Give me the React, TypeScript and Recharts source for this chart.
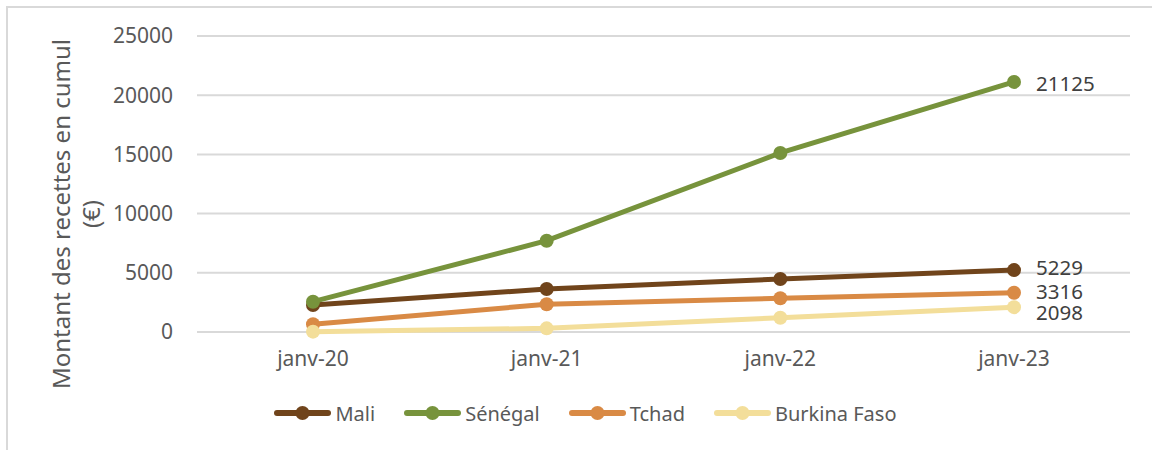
import React from "react";
import { LineChart, Line, XAxis, YAxis, CartesianGrid, LabelList } from "recharts";

const categories = ["janv-20", "janv-21", "janv-22", "janv-23"];
const mali = [2280, 3630, 4480, 5229];
const senegal = [2560, 7710, 15120, 21125];
const tchad = [650, 2340, 2850, 3316];
const burkina = [30, 310, 1200, 2098];
const yTicks = [0, 5000, 10000, 15000, 20000, 25000];

const seriesInfo = [
  { key: "Mali", values: mali, color: "#70441B", labelDy: -3 },
  { key: "Sénégal", values: senegal, color: "#77933C", labelDy: 1 },
  { key: "Tchad", values: tchad, color: "#D98A45", labelDy: -2 },
  { key: "Burkina Faso", values: burkina, color: "#F3DE9A", labelDy: 5 },
];

const data = categories.map((c, i) => {
  const row: Record<string, string | number> = { cat: c };
  seriesInfo.forEach((s) => {
    row[s.key] = s.values[i];
  });
  return row;
});

const FONT = "'Noto Sans', 'Open Sans', sans-serif";
const TEXT = "#595959";

const makeLabel = (dy: number) => (props: any) => {
  const { x, y, value, index } = props;
  if (index !== categories.length - 1) return null;
  return (
    <text
      x={x + 22}
      y={y + dy}
      dominantBaseline="central"
      fontFamily={FONT}
      fontSize={20.5}
      fill="#404040"
    >
      {value}
    </text>
  );
};

const YTitle = () => {
  const cy = 214;
  return (
    <g fontFamily={FONT} fontSize={24} fill={TEXT}>
      <text x={60} y={cy} transform={`rotate(-90, 60, ${cy})`} textAnchor="middle" dominantBaseline="central">
        Montant des recettes en cumul
      </text>
      <text x={90} y={cy} transform={`rotate(-90, 90, ${cy})`} textAnchor="middle" dominantBaseline="central">
        (€)
      </text>
    </g>
  );
};

const Legend = () => (
  <div
    style={{
      position: "absolute",
      left: 0,
      top: 399,
      width: 1152,
      display: "flex",
      justifyContent: "center",
      paddingLeft: 19,
      boxSizing: "border-box",
      fontFamily: FONT,
      fontSize: 20,
      color: TEXT,
    }}
  >
    {seriesInfo.map((s, i) => (
      <div
        key={s.key}
        style={{
          display: "flex",
          alignItems: "center",
          marginRight: i === seriesInfo.length - 1 ? 0 : 29,
        }}
      >
        <svg width={57} height={28} style={{ marginRight: 4 }}>
          <line x1={3} y1={14} x2={54} y2={14} stroke={s.color} strokeWidth={6} strokeLinecap="round" />
          <circle cx={28.5} cy={14} r={7} fill={s.color} />
        </svg>
        <span>{s.key}</span>
      </div>
    ))}
  </div>
);

export default function App() {
  return (
    <div
      style={{
        position: "absolute",
        left: 0,
        top: 0,
        width: 1152,
        height: 450,
        overflow: "hidden",
        background: "#fff",
      }}
    >
      <div
        style={{
          position: "absolute",
          left: 6,
          top: 6,
          width: 1300,
          height: 600,
          border: "2px solid #d9d9d9",
        }}
      />
      <div style={{ position: "absolute", left: 0, top: 0 }}>
        <LineChart
          width={1152}
          height={450}
          data={data}
          margin={{ top: 36, right: 22, bottom: 88, left: 0 }}
        >
          <CartesianGrid vertical={false} stroke="#d9d9d9" strokeWidth={2} />
          <XAxis
            dataKey="cat"
            padding={{ left: 116, right: 116 }}
            axisLine={false}
            tickLine={false}
            tickMargin={13}
            tick={{ fontFamily: FONT, fontSize: 21, fill: TEXT }}
            interval={0}
          />
          <YAxis
            width={197}
            domain={[0, 25000]}
            ticks={yTicks}
            axisLine={false}
            tickLine={false}
            tickMargin={18}
            tick={{ fontFamily: FONT, fontSize: 21, fill: TEXT }}
          />
          {seriesInfo.map((s) => (
            <Line
              key={s.key}
              dataKey={s.key}
              stroke={s.color}
              strokeWidth={5}
              dot={{ r: 7, fill: s.color, stroke: s.color, strokeWidth: 0 }}
              activeDot={false}
              isAnimationActive={false}
            >
              <LabelList dataKey={s.key} content={makeLabel(s.labelDy)} />
            </Line>
          ))}
        </LineChart>
      </div>
      <svg
        width={1152}
        height={450}
        style={{ position: "absolute", left: 0, top: 0, pointerEvents: "none" }}
      >
        <YTitle />
      </svg>
      <Legend />
    </div>
  );
}
